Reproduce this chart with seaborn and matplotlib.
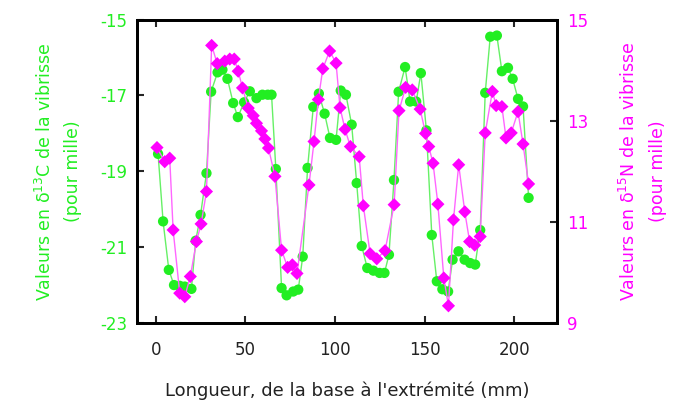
import matplotlib
matplotlib.use("Agg")
import matplotlib.pyplot as plt
import seaborn as sns
import pandas as pd

# delta 13C (left axis, green)
c_length = [1.3, 4.1, 7.3, 10.2, 13.4, 16.2, 19.9, 22.3, 25.0, 28.3,
            30.9, 34.5, 37.2, 40.0, 43.2, 45.8, 49.3, 52.5, 56.2, 59.5,
            62.5, 64.6, 67.0, 70.2, 73.0, 76.7, 79.5, 82.0, 84.7, 87.9,
            91.0, 94.2, 97.2, 100.6, 103.2, 106.1, 109.3, 112.1, 114.9, 118.0,
            121.4, 124.9, 127.6, 130.1, 132.9, 135.5, 139.1, 141.9, 145.3, 147.9,
            151.0, 154.0, 156.8, 159.9, 163.1, 165.6, 168.9, 172.3, 175.4, 178.2,
            181.0, 183.8, 186.6, 190.3, 193.1, 196.5, 199.1, 202.1, 204.9, 208.0]
c_values = [-18.54, -20.32, -21.6, -22.0, -22.02, -22.04, -22.1, -20.83, -20.15, -19.05,
            -16.9, -16.39, -16.32, -16.56, -17.2, -17.57, -17.18, -16.89, -17.07, -16.98,
            -16.98, -16.98, -18.94, -22.08, -22.27, -22.17, -22.12, -21.25, -18.91, -17.3,
            -16.95, -17.48, -18.12, -18.17, -16.87, -16.98, -17.77, -19.31, -20.97, -21.55,
            -21.62, -21.68, -21.68, -21.2, -19.23, -16.9, -16.25, -17.16, -17.16, -16.41,
            -17.92, -20.68, -21.9, -22.11, -22.17, -21.33, -21.11, -21.33, -21.42, -21.46,
            -20.55, -16.93, -15.45, -15.42, -16.36, -16.27, -16.56, -17.09, -17.29, -19.7]

# delta 15N (right axis, magenta)
n_length = [0.7, 5.0, 7.8, 9.7, 13.4, 16.2, 19.3, 22.7, 25.3, 28.3,
            31.2, 34.3, 38.5, 41.3, 43.8, 46.0, 48.4, 51.6, 54.4, 56.2,
            59.0, 60.9, 62.9, 66.5, 70.2, 73.6, 76.2, 78.8, 85.5, 88.3,
            90.7, 93.2, 97.0, 100.6, 102.8, 105.6, 108.6, 113.5, 115.8, 119.6,
            123.3, 127.9, 133.0, 135.7, 139.4, 143.1, 147.5, 150.5, 152.3, 154.7,
            157.4, 160.7, 163.3, 166.1, 169.0, 172.4, 175.1, 177.9, 181.0, 183.8,
            187.8, 189.9, 193.1, 195.4, 198.3, 202.1, 204.9, 208.0]
n_values = [12.47, 12.19, 12.26, 10.84, 9.59, 9.52, 9.92, 10.61, 10.96, 11.6,
            14.49, 14.13, 14.18, 14.22, 14.22, 13.98, 13.65, 13.25, 13.1, 12.95,
            12.8, 12.64, 12.46, 11.9, 10.44, 10.1, 10.15, 9.98, 11.73, 12.59,
            13.42, 14.03, 14.38, 14.14, 13.26, 12.83, 12.49, 12.29, 11.32, 10.37,
            10.27, 10.43, 11.34, 13.2, 13.66, 13.61, 13.23, 12.75, 12.49, 12.16,
            11.35, 9.89, 9.34, 11.04, 12.13, 11.2, 10.61, 10.54, 10.71, 12.76,
            13.58, 13.3, 13.28, 12.66, 12.76, 13.18, 12.54, 11.75]

x_ticks = [0, 50, 100, 150, 200]
c_ticks = [-23, -21, -19, -17, -15]
n_ticks = [9, 11, 13, 15]

GREEN = "#22ee22"
GREEN_LINE = "#66f066"
MAGENTA = "#ff00ff"
MAGENTA_LINE = "#ff66ff"

sns.set_style("white")
plt.rcParams['font.family'] = ['DejaVu Sans']
plt.rcParams['axes.unicode_minus'] = False

dfc = pd.DataFrame({"x": c_length, "y": c_values})
dfn = pd.DataFrame({"x": n_length, "y": n_values})

fig = plt.figure(figsize=(6.88, 4.05), dpi=100)
ax = fig.add_axes([0.199, 0.2025, 0.611, 0.749])
ax2 = ax.twinx()

sns.lineplot(data=dfc, x="x", y="y", ax=ax, color=GREEN_LINE, linewidth=1.0,
             sort=False, estimator=None)
sns.scatterplot(data=dfc, x="x", y="y", ax=ax, color=GREEN, marker="o", s=55,
                edgecolor="none", zorder=3)
sns.lineplot(data=dfn, x="x", y="y", ax=ax2, color=MAGENTA_LINE, linewidth=1.0,
             sort=False, estimator=None)
sns.scatterplot(data=dfn, x="x", y="y", ax=ax2, color=MAGENTA, marker="D", s=45,
                edgecolor="none", zorder=3)

ax.set_xlim(-10.5, 224)
ax.set_ylim(-23, -15)
ax2.set_ylim(9, 15)

ax.set_xticks(x_ticks)
ax.set_yticks(c_ticks)
ax2.set_yticks(n_ticks)

for a in (ax, ax2):
    for s in a.spines.values():
        s.set_color("black")
        s.set_linewidth(2)
        s.set_visible(True)

ax.tick_params(axis="x", direction="in", length=5, width=1.5, top=True, bottom=True,
               labelsize=12, labelcolor="#222222", pad=13)
ax.tick_params(axis="y", direction="in", length=5, width=1.5, left=True, right=False,
               labelsize=12, labelcolor=GREEN, pad=7)
ax2.tick_params(axis="y", direction="in", length=5, width=1.5, right=True, left=False,
                labelsize=12, labelcolor=MAGENTA, pad=7)

ax.set_xlabel("Longueur, de la base à l'extrémité (mm)", fontsize=13, color="#222222",
              labelpad=16)
ax.set_ylabel("Valeurs en δ$^{13}$C de la vibrisse\n(pour mille)", fontsize=12.5,
              color=GREEN, labelpad=13, linespacing=1.65)
ax2.set_ylabel("Valeurs en δ$^{15}$N de la vibrisse\n(pour mille)", fontsize=12.5,
               color=MAGENTA, labelpad=22, linespacing=1.75)

fig.savefig("out.png", dpi=100)
